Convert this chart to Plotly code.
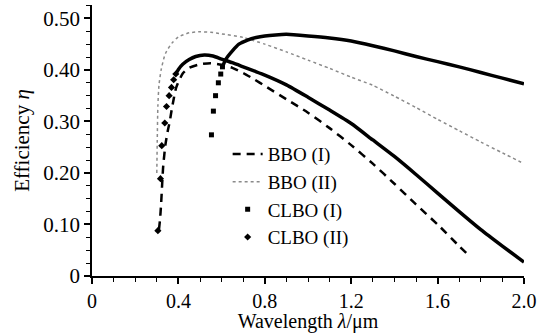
import plotly.graph_objects as go

# ---- data ----
bbo1_x = [0.31, 0.315, 0.32, 0.325, 0.33, 0.34, 0.35, 0.36, 0.37, 0.39, 0.42, 0.45, 0.50, 0.55,
          0.60, 0.65, 0.70, 0.75, 0.80, 0.90, 1.0, 1.1, 1.2, 1.3, 1.4, 1.5, 1.6, 1.7, 1.75]
bbo1_y = [0.09, 0.11, 0.14, 0.18, 0.215, 0.255, 0.28, 0.30, 0.325, 0.366, 0.393, 0.404, 0.411, 0.413,
          0.410, 0.404, 0.394, 0.382, 0.369, 0.343, 0.317, 0.287, 0.254, 0.218, 0.179, 0.139, 0.100, 0.058, 0.038]

bbo2_x = [0.30, 0.302, 0.305, 0.31, 0.32, 0.34, 0.37, 0.40, 0.45, 0.50, 0.55, 0.60, 0.70, 0.80,
          0.90, 1.0, 1.1, 1.2, 1.3, 1.4, 1.5, 1.6, 1.7, 1.8, 1.9, 2.0]
bbo2_y = [0.20, 0.26, 0.33, 0.37, 0.40, 0.432, 0.452, 0.464, 0.472, 0.474, 0.473, 0.470, 0.463, 0.450,
          0.435, 0.419, 0.403, 0.386, 0.370, 0.349, 0.327, 0.304, 0.282, 0.260, 0.239, 0.218]

clbo1_pts_x = [0.553, 0.562, 0.572, 0.585, 0.596, 0.604]
clbo1_pts_y = [0.274, 0.320, 0.350, 0.375, 0.392, 0.406]
clbo1_x = [0.604, 0.62, 0.65, 0.68, 0.72, 0.76, 0.80, 0.85, 0.90, 1.0, 1.1, 1.2, 1.3, 1.4,
           1.5, 1.6, 1.7, 1.8, 1.9, 2.0]
clbo1_y = [0.406, 0.421, 0.437, 0.450, 0.458, 0.463, 0.466, 0.468, 0.469, 0.466, 0.462, 0.456, 0.447, 0.437,
           0.426, 0.416, 0.406, 0.395, 0.384, 0.373]

clbo2_pts_x = [0.305, 0.317, 0.323, 0.337, 0.345, 0.357, 0.368, 0.378, 0.388]
clbo2_pts_y = [0.088, 0.189, 0.253, 0.297, 0.329, 0.350, 0.366, 0.381, 0.392]
clbo2_x = [0.388, 0.40, 0.42, 0.45, 0.48, 0.52, 0.56, 0.60, 0.65, 0.70, 0.75, 0.80, 0.90, 1.0,
           1.1, 1.2, 1.3, 1.4, 1.5, 1.6, 1.7, 1.8, 1.9, 2.0]
clbo2_y = [0.392, 0.401, 0.411, 0.420, 0.426, 0.429, 0.427, 0.421, 0.414, 0.406, 0.398, 0.390, 0.371, 0.347,
           0.322, 0.296, 0.264, 0.232, 0.197, 0.161, 0.125, 0.090, 0.058, 0.027]

x_ticks = [0, 0.4, 0.8, 1.2, 1.6, 2.0]
x_ticktext = ["0", "0.4", "0.8", "1.2", "1.6", "2.0"]
y_ticks = [0, 0.1, 0.2, 0.3, 0.4, 0.5]
y_ticktext = ["0", "0.10", "0.20", "0.30", "0.40", "0.50"]

FONT = "Liberation Serif"

fig = go.Figure()
fig.add_trace(go.Scatter(x=bbo1_x, y=bbo1_y, mode="lines", name="BBO (I)",
                         line=dict(color="black", width=2.5, dash="8px,6px", shape="spline", smoothing=0.6)))
fig.add_trace(go.Scatter(x=bbo2_x, y=bbo2_y, mode="lines", name="BBO (II)",
                         line=dict(color="#8a8a8a", width=1.5, dash="dot", shape="spline", smoothing=0.6)))
fig.add_trace(go.Scatter(x=clbo1_pts_x, y=clbo1_pts_y, mode="markers", name="CLBO (I)",
                         legendgroup="c1",
                         marker=dict(symbol="square", size=5, color="black")))
fig.add_trace(go.Scatter(x=clbo1_x, y=clbo1_y, mode="lines", name="CLBO (I)",
                         legendgroup="c1", showlegend=False,
                         line=dict(color="black", width=3.5, shape="spline", smoothing=0.6)))
fig.add_trace(go.Scatter(x=clbo2_pts_x, y=clbo2_pts_y, mode="markers", name="CLBO (II)",
                         legendgroup="c2",
                         marker=dict(symbol="diamond", size=5.5, color="black")))
fig.add_trace(go.Scatter(x=clbo2_x, y=clbo2_y, mode="lines", name="CLBO (II)",
                         legendgroup="c2", showlegend=False,
                         line=dict(color="black", width=3.5, shape="spline", smoothing=0.6)))

fig.update_layout(
    width=542, height=333,
    margin=dict(l=92, r=17, t=5, b=52),
    paper_bgcolor="white", plot_bgcolor="white",
    font=dict(family=FONT, size=20, color="black"),
    showlegend=True,
    legend=dict(x=0.314, y=0.52, xanchor="left", yanchor="top",
                bgcolor="rgba(0,0,0,0)", font=dict(size=19), tracegroupgap=0),
    xaxis=dict(range=[0, 2.0], tickvals=x_ticks, ticktext=x_ticktext,
               showline=True, linecolor="black", linewidth=1.5,
               ticks="outside", ticklen=6, tickwidth=1.5, tickcolor="black",
               minor=dict(dtick=0.1, ticks="outside", ticklen=4, tickwidth=1.2, tickcolor="black"),
               showgrid=False, zeroline=False,
               tickfont=dict(size=20),
               title=dict(text="Wavelength <i>λ</i>/μm", font=dict(size=20), standoff=2)),
    yaxis=dict(range=[0, 0.526], tickvals=y_ticks, ticktext=y_ticktext,
               showline=True, linecolor="black", linewidth=1.5,
               ticks="outside", ticklen=6, tickwidth=1.5, tickcolor="black",
               minor=dict(dtick=0.025, ticks="outside", ticklen=4, tickwidth=1.2, tickcolor="black"),
               showgrid=False, zeroline=False,
               tickfont=dict(size=21),
               title=dict(text="Efficiency <i>η</i>", font=dict(size=21), standoff=8)),
)

fig.write_html("out.html")
